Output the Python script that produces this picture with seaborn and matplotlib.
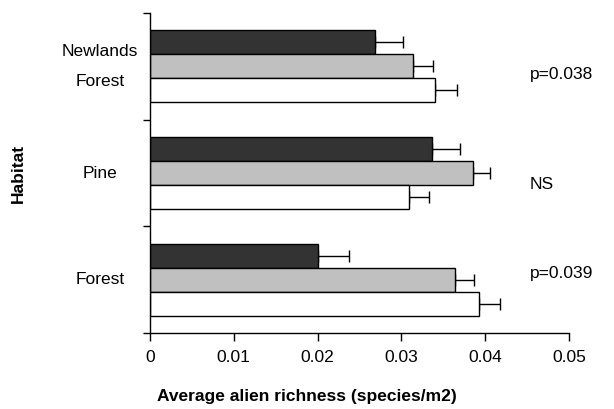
import pandas as pd
import seaborn as sns
import matplotlib
matplotlib.use('Agg')
import matplotlib.pyplot as plt

# Data
habitats = ["Newlands\nForest", "Pine", "Forest"]
groups = ["A", "B", "C"]
dark_vals = [0.0268, 0.0337, 0.0200]
gray_vals = [0.0314, 0.0385, 0.0364]
white_vals = [0.0340, 0.0309, 0.0393]
dark_err = [0.0034, 0.0033, 0.0037]
gray_err = [0.0024, 0.0021, 0.0023]
white_err = [0.0026, 0.0024, 0.0025]
p_labels = ["p=0.038", "NS", "p=0.039"]
p_ypos = [0.08, 1.11, 1.94]
xticks = [0, 0.01, 0.02, 0.03, 0.04, 0.05]
colors = ["#333333", "#c0c0c0", "#ffffff"]


def main():
    rows = []
    for vals, errs, g in zip([dark_vals, gray_vals, white_vals],
                             [dark_err, gray_err, white_err], groups):
        for h, v, e in zip(habitats, vals, errs):
            rows.append({"Habitat": h, "group": g, "value": v, "err": e})
    df = pd.DataFrame(rows)

    sns.set_style("white")
    plt.rcParams['font.family'] = ['Liberation Sans', 'DejaVu Sans']
    plt.rcParams.update({'text.color': 'black', 'axes.labelcolor': 'black',
                         'xtick.color': 'black', 'ytick.color': 'black'})
    fs = 12.5

    fig = plt.figure(figsize=(6.14, 4.09), dpi=100)
    ax = fig.add_axes([150 / 614, 1 - 333 / 409, 419 / 614, 320 / 409])

    sns.barplot(data=df, y="Habitat", x="value", hue="group", order=habitats,
                hue_order=groups, palette=colors, orient="h", width=0.675,
                edgecolor="black", linewidth=1.0, errorbar=None, legend=False,
                ax=ax, zorder=2)

    # one-sided error bars from the bar patches
    for bars, g in zip(ax.containers, groups):
        sub = df[df["group"] == g].set_index("Habitat").loc[habitats]
        for patch, v, e in zip(bars, sub["value"], sub["err"]):
            yc = patch.get_y() + patch.get_height() / 2
            ax.errorbar(v, yc, xerr=[[0], [e]], fmt="none", ecolor="black",
                        elinewidth=1.0, capsize=4.3, capthick=1.0, zorder=1)

    for y, lab in zip(p_ypos, p_labels):
        ax.text(0.0453, y, lab, fontsize=fs, va="center", ha="left",
                color="black")

    ax.set_xlim(0, 0.05)
    ax.set_ylim(2.5, -0.5)
    ax.set_xticks(xticks)
    ax.set_xticklabels(["0", "0.01", "0.02", "0.03", "0.04", "0.05"])
    ax.set_yticks([-0.5, 0.5, 1.5, 2.5], minor=True)
    ax.tick_params(axis="y", which="major", length=0, pad=36, labelsize=fs,
                   labelcolor="black")
    for t in ax.get_yticklabels():
        t.set_horizontalalignment("center")
        t.set_verticalalignment("center")
        t.set_multialignment("center")
        t.set_linespacing(2.3)
    ax.tick_params(axis="y", which="minor", length=5, width=1.0, direction="out",
                   left=True, color="black")
    ax.tick_params(axis="x", length=6, width=1.0, direction="out", bottom=True,
                   labelsize=fs, pad=6, color="black", labelcolor="black")

    sns.despine(ax=ax)
    for s in ["left", "bottom"]:
        ax.spines[s].set_color("black")
        ax.spines[s].set_linewidth(1.0)

    ax.set_xlabel("Average alien richness (species/m2)", fontsize=fs,
                  fontweight="bold", color="black")
    # centred on the whole figure, like the source chart
    ax.xaxis.set_label_coords((307 - 150) / 419, -56 / 320)
    ax.set_ylabel("Habitat", fontsize=fs, fontweight="bold", labelpad=26,
                  color="black")

    fig.savefig("out.png", dpi=100)


if __name__ == '__main__':
    main()
